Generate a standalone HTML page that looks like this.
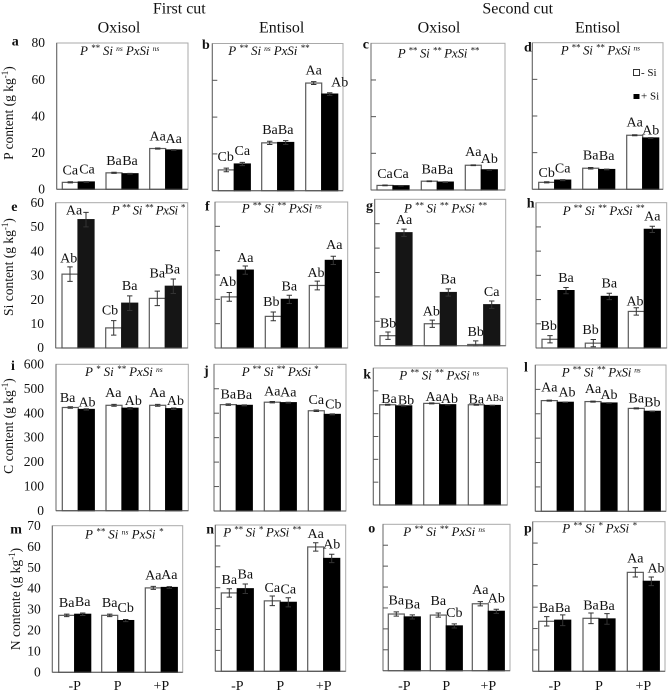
<!DOCTYPE html>
<html lang="en">
<head>
<meta charset="utf-8">
<title>Nutrient content by P level, silicon, soil and cut</title>
<style>
html,body{margin:0;padding:0;background:#fff;}
svg{display:block;font-family:"Liberation Serif",serif;}
text{white-space:pre;fill:#111;}
</style>
</head>
<body>
<svg id="chart" xmlns="http://www.w3.org/2000/svg" width="669" height="695" viewBox="0 0 669 695">
  <text x="179.3" y="13.5" font-size="16" text-anchor="middle">First cut</text>
  <text x="517.7" y="13.5" font-size="16" text-anchor="middle">Second cut</text>
  <text x="119" y="32.5" font-size="16" text-anchor="middle">Oxisol</text>
  <text x="281.7" y="32.5" font-size="16" text-anchor="middle">Entisol</text>
  <text x="439" y="32.5" font-size="16" text-anchor="middle">Oxisol</text>
  <text x="597.7" y="32.5" font-size="16" text-anchor="middle">Entisol</text>
  <text transform="translate(13,113) rotate(-90)" font-size="13.5" text-anchor="middle">P content (g kg<tspan font-size="9" dy="-5">-1</tspan><tspan dy="5">)</tspan></text>
  <text transform="translate(13,267) rotate(-90)" font-size="13.5" text-anchor="middle">Si content (g kg<tspan font-size="9" dy="-5">-1</tspan><tspan dy="5">)</tspan></text>
  <text transform="translate(13,426) rotate(-90)" font-size="13.5" text-anchor="middle">C content (g kg<tspan font-size="9" dy="-5">-1</tspan><tspan dy="5">)</tspan></text>
  <text transform="translate(20,599) rotate(-90)" font-size="13.5" text-anchor="middle">N contente (g kg<tspan font-size="9" dy="-5">-1</tspan><tspan dy="5">)</tspan></text>
  <rect x="633.5" y="69.5" width="6" height="6" fill="#fff" stroke="#333" stroke-width="1"/>
  <text x="641" y="76" font-size="11">- Si</text>
  <rect x="633.5" y="94" width="6" height="5" fill="#000"/>
  <text x="641" y="99.5" font-size="11">+ Si</text>
</svg>
<script>
const categories = ['-P', 'P', '+P'];
const pTicks = [0, 20, 40, 60, 80];
const siTicks = [0, 10, 20, 30, 40, 50, 60];
const cTicks = [0, 100, 200, 300, 400, 500, 600];
const nTicks = [0, 10, 20, 30, 40, 50, 60, 70];

const aNoSi = [3.8, 9, 22.3];
const aSi = [4, 8.5, 21.5];
const aErrNoSi = [0.3, 0.3, 0.3];
const aErrSi = [0.2, 0.2, 0.2];
const aLettersNoSi = ['Ca', 'Ba', 'Aa'];
const aLettersSi = ['Ca', 'Ba', 'Aa'];

const bNoSi = [11.3, 26, 58.5];
const bSi = [14.5, 26.2, 52.5];
const bErrNoSi = [1, 0.9, 0.8];
const bErrSi = [0.9, 1, 0.7];
const bLettersNoSi = ['Cb', 'Ba', 'Aa'];
const bLettersSi = ['Ca', 'Ba', 'Ab'];

const cNoSi = [2.5, 4.8, 13.5];
const cSi = [2.3, 4.3, 11];
const cErrNoSi = [0.2, 0.2, 0.2];
const cErrSi = [0.1, 0.2, 0.2];
const cLettersNoSi = ['Ca', 'Ba', 'Aa'];
const cLettersSi = ['Ca', 'Ba', 'Ab'];

const dNoSi = [3.8, 11.5, 29.5];
const dSi = [5, 10.8, 28];
const dErrNoSi = [0.3, 0.4, 0.3];
const dErrSi = [0.3, 0.2, 0.2];
const dLettersNoSi = ['Cb', 'Ba', 'Aa'];
const dLettersSi = ['Ca', 'Ba', 'Ab'];

const eNoSi = [30.5, 8.3, 20.5];
const eSi = [53, 18.5, 25.5];
const eErrNoSi = [3, 3, 3];
const eErrSi = [3, 3, 3];
const eLettersNoSi = ['Ab', 'Cb', 'Ba'];
const eLettersSi = ['Aa', 'Ba', 'Ba'];

const fNoSi = [21, 13, 25.7];
const fSi = [32, 20, 36];
const fErrNoSi = [1.8, 1.8, 1.8];
const fErrSi = [1.7, 1.7, 1.7];
const fLettersNoSi = ['Ab', 'Bb', 'Ab'];
const fLettersSi = ['Aa', 'Ba', 'Aa'];

const gNoSi = [4.1, 9, 0.5];
const gSi = [46.3, 21.8, 16.8];
const gErrNoSi = [1.5, 1.5, 1.5];
const gErrSi = [1.5, 1.5, 1.5];
const gLettersNoSi = ['Bb', 'Ab', 'Bb'];
const gLettersSi = ['Aa', 'Ba', 'Ca'];

const hNoSi = [3.6, 2, 15.1];
const hSi = [23.7, 21.3, 49];
const hErrNoSi = [1.5, 1.5, 1.5];
const hErrSi = [1.3, 1.3, 1.3];
const hLettersNoSi = ['Bb', 'Bb', 'Ab'];
const hLettersSi = ['Ba', 'Ba', 'Aa'];

const iNoSi = [423, 432, 432];
const iSi = [415, 420, 418];
const iErrNoSi = [3, 4, 4];
const iErrSi = [3, 3, 3];
const iLettersNoSi = ['Ba', 'Aa', 'Aa'];
const iLettersSi = ['Ab', 'Ab', 'Ab'];

const jNoSi = [435, 445, 410];
const jSi = [432, 443, 395];
const jErrNoSi = [3, 3, 3];
const jErrSi = [2, 2, 2];
const jLettersNoSi = ['Ba', 'Aa', 'Ca'];
const jLettersSi = ['Ba', 'Aa', 'Cb'];

const kNoSi = [439, 445, 439];
const kSi = [434, 439, 436];
const kErrNoSi = [2, 2, 2];
const kErrSi = [1, 1, 1];
const kLettersNoSi = ['Ba', 'Aa', 'Ba'];
const kLettersSi = ['Bb', 'Ab', 'ABa'];

const lNoSi = [454, 450, 422];
const lSi = [447, 444, 410];
const lErrNoSi = [2, 2, 2];
const lErrSi = [1, 1, 1];
const lLettersNoSi = ['Aa', 'Aa', 'Ba'];
const lLettersSi = ['Ab', 'Ab', 'Bb'];

const mNoSi = [27.2, 27.2, 40.3];
const mSi = [27.7, 24.7, 40.5];
const mErrNoSi = [0.6, 0.6, 0.7];
const mErrSi = [0.6, 0.5, 0.4];
const mLettersNoSi = ['Ba', 'Ba', 'Aa'];
const mLettersSi = ['Ba', 'Cb', 'Aa'];

const nNoSi = [37.5, 33.7, 59.5];
const nSi = [39.5, 33, 54];
const nErrNoSi = [2, 2.3, 2];
const nErrSi = [2.3, 2.2, 2];
const nLettersNoSi = ['Ba', 'Ca', 'Aa'];
const nLettersSi = ['Ba', 'Ca', 'Ab'];

const oNoSi = [27.1, 26.6, 32];
const oSi = [25.7, 21.4, 28.4];
const oErrNoSi = [1, 1, 1];
const oErrSi = [1, 1, 1];
const oLettersNoSi = ['Ba', 'Ba', 'Aa'];
const oLettersSi = ['Ba', 'Cb', 'Ab'];

const pNoSi = [23.4, 24.8, 46.3];
const pSi = [23.9, 24.5, 42.1];
const pErrNoSi = [2.2, 2.5, 2.2];
const pErrSi = [2.5, 2.5, 2];
const pLettersNoSi = ['Ba', 'Ba', 'Aa'];
const pLettersSi = ['Ba', 'Ba', 'Ab'];

const panels = [
  {id:'a', noSi:aNoSi, si:aSi, errNoSi:aErrNoSi, errSi:aErrSi, lettersNoSi:aLettersNoSi, lettersSi:aLettersSi, ticks:pTicks, showLabels:true, labelEnd:45,
   box:[56.7,43,188,189.3], start:[62.3,106,149.7], tag:[11.7,45.7], stat:[80,159.3,55,'**','ns','ns'],
   lift:[8,8.7,8,9,8,7], shift:[0,0.7,0,0,0,0], fill:'#000'},
  {id:'b', noSi:bNoSi, si:bSi, errNoSi:bErrNoSi, errSi:bErrSi, lettersNoSi:bLettersNoSi, lettersSi:bLettersSi, ticks:pTicks, showLabels:false,
   box:[212.3,43.5,343,190.7], start:[218.3,261.7,305.7], tag:[202,49], stat:[228.3,309.3,55,'**','ns','**'],
   lift:[9,9,8.7,8.7,8.7,7.4], shift:[-0.6,0,0.3,0,0,10], fill:'#000'},
  {id:'c', noSi:cNoSi, si:cSi, errNoSi:cErrNoSi, errSi:cErrSi, lettersNoSi:cLettersNoSi, lettersSi:cLettersSi, ticks:pTicks, showLabels:false,
   box:[371,43.3,505,190], start:[377,421.3,465.3], tag:[362.7,48.3], stat:[397.7,479,57.3,'**','**','**'],
   lift:[7.6,7.6,7.7,8,9,6.7], shift:[0,0,0,0,0,0], fill:'#000'},
  {id:'d', noSi:dNoSi, si:dSi, errNoSi:dErrNoSi, errSi:dErrSi, lettersNoSi:dLettersNoSi, lettersSi:dLettersSi, ticks:pTicks, showLabels:false,
   box:[532.3,42.7,663,189.3], start:[538.7,582.7,626.7], tag:[524,51.7], stat:[560.7,640,54.3,'**','**','ns'],
   lift:[5.3,7.7,8.7,9.3,8.7,3.7], shift:[0,0,0,0,0,0], fill:'#000'},
  {id:'e', noSi:eNoSi, si:eSi, errNoSi:eErrNoSi, errSi:eErrSi, lettersNoSi:eLettersNoSi, lettersSi:eLettersSi, ticks:siTicks, showLabels:true, labelEnd:44,
   box:[55.7,202.7,187.7,348], start:[62,105.7,149.3], tag:[11.3,211], stat:[111.7,185,214.3,'**','**','*'],
   lift:[11.7,5,13.3,13.3,21,12.7], shift:[-1.3,-12,-3.7,0,0,-1], fill:'#151515'},
  {id:'f', noSi:fNoSi, si:fSi, errNoSi:fErrNoSi, errSi:fErrSi, lettersNoSi:fLettersNoSi, lettersSi:fLettersSi, ticks:siTicks, showLabels:false,
   box:[215,202,347.7,348], start:[221.3,265.3,309.3], tag:[205,210.7], stat:[241.7,321.7,212.3,'**','**','ns'],
   lift:[10.7,8,10.3,9,8.3,11.3], shift:[-1.7,0,-2,0,-1.3,1], fill:'#000'},
  {id:'g', noSi:gNoSi, si:gSi, errNoSi:gErrNoSi, errSi:gErrSi, lettersNoSi:gLettersNoSi, lettersSi:gLettersSi, ticks:siTicks, showLabels:false,
   box:[374.7,199.3,505.7,345.7], start:[380,424.3,467.7], tag:[366,210], stat:[404,486.7,212.3,'**','**','**'],
   lift:[8.3,8.7,8.3,9,8.7,8.7], shift:[0,0,-1,0,0,0], fill:'#151515'},
  {id:'h', noSi:hNoSi, si:hSi, errNoSi:hErrNoSi, errSi:hErrSi, lettersNoSi:hLettersNoSi, lettersSi:hLettersSi, ticks:siTicks, showLabels:false,
   box:[536,202.7,666.7,348], start:[542,585.3,628.3], tag:[526.7,207.3], stat:[562.7,644.3,215,'**','**','**'],
   lift:[9.3,8.7,9,8.7,5.7,9], shift:[-1.3,0,-2.7,0,-1.3,0], fill:'#000'},
  {id:'i', noSi:iNoSi, si:iSi, errNoSi:iErrNoSi, errSi:iErrSi, lettersNoSi:iLettersNoSi, lettersSi:iLettersSi, ticks:cTicks, showLabels:true, labelEnd:44,
   box:[56,364.3,188.3,510.7], start:[62.3,106,149.7], tag:[11,370], stat:[85,162.7,376,'*','**','ns'],
   lift:[5.7,2.7,8.3,3.3,8.3,3.7], shift:[-2.7,0.7,-0.7,3.3,-0.3,1.7], fill:'#000'},
  {id:'j', noSi:jNoSi, si:jSi, errNoSi:jErrNoSi, errSi:jErrSi, lettersNoSi:jLettersNoSi, lettersSi:jLettersSi, ticks:cTicks, showLabels:false,
   box:[214,364.3,346,511], start:[220.3,264.3,308.3], tag:[204,375], stat:[241.7,318.3,376,'**','**','*'],
   lift:[6.3,6.3,6.7,6.3,6.7,5.7], shift:[0,0,0,0,0,1], fill:'#000'},
  {id:'k', noSi:kNoSi, si:kSi, errNoSi:kErrNoSi, errSi:kErrSi, lettersNoSi:kLettersNoSi, lettersSi:kLettersSi, ticks:cTicks, showLabels:false,
   box:[373.3,368,507.3,505], start:[379.7,423.7,468.3], tag:[363.3,378.3], stat:[399.3,479.3,379.3,'**','**','ns'],
   lift:[1.7,1.3,2.3,1.7,1.3,4.3], shift:[1.3,2.3,2,1.7,0,2.3], fill:'#000'},
  {id:'l', noSi:lNoSi, si:lSi, errNoSi:lErrNoSi, errSi:lErrSi, lettersNoSi:lLettersNoSi, lettersSi:lLettersSi, ticks:cTicks, showLabels:false,
   box:[535.3,365,666,511.3], start:[541.3,585,628.3], tag:[524,371.7], stat:[561.7,640.7,376.7,'**','**','ns'],
   lift:[9,6,8.7,4,6,4.7], shift:[0,1.7,0,0,0,0], fill:'#000'},
  {id:'m', noSi:mNoSi, si:mSi, errNoSi:mErrNoSi, errSi:mErrSi, lettersNoSi:mLettersNoSi, lettersSi:mLettersSi, ticks:nTicks, showLabels:true, labelEnd:40.7,
   box:[52.3,525.7,182.7,672.3], start:[58.7,101.7,145.3], tag:[10.3,533.3], stat:[85,163.3,538.3,'**','ns','*'],
   lift:[8.3,8.3,8.3,8.7,8.3,8.3], shift:[0,0,0,0,0,0], fill:'#000'},
  {id:'n', noSi:nNoSi, si:nSi, errNoSi:nErrNoSi, errSi:nErrSi, lettersNoSi:nLettersNoSi, lettersSi:nLettersSi, ticks:nTicks, showLabels:false,
   box:[215.3,525,345.7,671.3], start:[221.3,264.3,307.7], tag:[206.3,533.3], stat:[223.3,301,536.7,'**','*','**'],
   lift:[8.7,10,9,8.7,8.7,9.7], shift:[0,0,0,0,0,0], fill:'#000'},
  {id:'o', noSi:oNoSi, si:oSi, errNoSi:oErrNoSi, errSi:oErrSi, lettersNoSi:oLettersNoSi, lettersSi:oLettersSi, ticks:nTicks, showLabels:false,
   box:[383,524.3,510,670.7], start:[388.3,430.3,472.3], tag:[368.3,532.7], stat:[403.3,485,536,'**','**','ns'],
   lift:[9.7,8.3,10,8.7,9.7,8.7], shift:[0,0,0,0,0,0], fill:'#000'},
  {id:'p', noSi:pNoSi, si:pSi, errNoSi:pErrNoSi, errSi:pErrSi, lettersNoSi:pLettersNoSi, lettersSi:pLettersSi, ticks:nTicks, showLabels:false,
   box:[532.7,521.7,665,671.3], start:[538.7,583,627.3], tag:[524,532.7], stat:[562.3,636.7,532.7,'**','*','*'],
   lift:[9.3,8.3,9,9,9.7,9], shift:[0,0,0,0,0,4.7], fill:'#000'}
];

const svgNS = 'http://www.w3.org/2000/svg';
const root = document.getElementById('chart');
const BAR_W = 16;
const CAP = 2.7;

function mk(tag, attrs, parent, txt) {
  const node = document.createElementNS(svgNS, tag);
  for (const key in attrs) node.setAttribute(key, attrs[key]);
  if (txt !== undefined) node.textContent = txt;
  parent.appendChild(node);
  return node;
}
function yScale(panel) {
  const [, top, , bottom] = panel.box;
  const max = panel.ticks[panel.ticks.length - 1];
  return v => bottom - (v / max) * (bottom - top);
}
function barLeft(panel, groupIndex, seriesIndex) {
  return panel.start[groupIndex] + seriesIndex * BAR_W;
}

panels.forEach(function (panel, panelIndex) {
  const y = yScale(panel);
  const [left, top, right, bottom] = panel.box;

  const group = mk('g', {}, root);
  
  

  const frame = mk('rect', {x:left, y:top, width:right-left, height:bottom-top, fill:'none', stroke:'#a9a9a9', 'stroke-width':1}, group);
  
  

  const yLine = mk('line', {x1:left, y1:top, x2:left, y2:bottom, stroke:'#666', 'stroke-width':1}, group);
  
  

  panel.ticks.forEach(function (tick) {
    if (panel.showLabels) {
      const label = mk('text', {x:panel.labelEnd, y:y(tick)+4.2, 'font-size':13.5, 'text-anchor':'end'}, group, String(tick));
      
      
    } else if (tick !== panel.ticks[0] && tick !== panel.ticks[panel.ticks.length - 1]) {
      const mark = mk('line', {x1:left, y1:y(tick), x2:left+5, y2:y(tick), stroke:'#555', 'stroke-width':1}, group);
      
      
    }
  });

  categories.forEach(function (category, g) {
    [[panel.noSi, panel.errNoSi, panel.lettersNoSi, 'no-si'], [panel.si, panel.errSi, panel.lettersSi, 'plus-si']].forEach(function (series, s) {
      const value = series[0][g];
      const err = series[1][g];
      const letters = series[2][g];
      const x = barLeft(panel, g, s);
      const cx = x + BAR_W / 2;
      const idx = g * 2 + s;

      const bar = mk('rect', {x:x, y:y(value), width:BAR_W, height:Math.max(0, bottom-y(value)),
        fill: s === 0 ? '#fff' : panel.fill, stroke: s === 0 ? '#5a5a5a' : panel.fill, 'stroke-width':1.2}, group);
      
      

      const errLine = mk('path', {d:'M'+(cx-CAP)+' '+y(value+err)+'H'+(cx+CAP)+'M'+cx+' '+y(value+err)+'V'+y(Math.max(0,value-err))+'M'+(cx-CAP)+' '+y(Math.max(0,value-err))+'H'+(cx+CAP),
        stroke:'#333', 'stroke-width':1, fill:'none'}, group);
      
      

      const lab = mk('text', {x:cx+panel.shift[idx], y:y(value)-panel.lift[idx], 'font-size': letters.length > 2 ? 9.5 : 14, 'text-anchor':'middle'}, group, letters);
      
      
    });

    if (panelIndex >= 12) {
      const catLabel = mk('text', {x:panel.start[g]+BAR_W, y:690, 'font-size':14, 'text-anchor':'middle'}, group, category);
      
      
    }
  });

  const xLine = mk('line', {x1:left, y1:bottom, x2:right, y2:bottom, stroke:'#555', 'stroke-width':1}, group);
  
  

  const tag = mk('text', {x:panel.tag[0], y:panel.tag[1], 'font-size':14, 'font-weight':'bold', 'text-anchor':'start'}, group, panel.id);
  
  

  const statX1 = panel.stat[0];
  const statX2 = panel.stat[1];
  const stat = mk('text', {x:statX1, y:panel.stat[2], 'font-size':13, 'font-style':'italic', textLength:statX2-statX1, lengthAdjust:'spacing'}, group);
  
  
  ['P', 'Si', 'PxSi'].forEach(function (term, t) {
    const mark = panel.stat[3 + t];
    mk('tspan', t ? {dy:4} : {}, stat, (t ? ' ' : '') + term + ' ');
    mk('tspan', {'font-size': mark === 'ns' ? 7.5 : 9, dy:-4}, stat, mark);
  });
});
</script>
</body>
</html>
